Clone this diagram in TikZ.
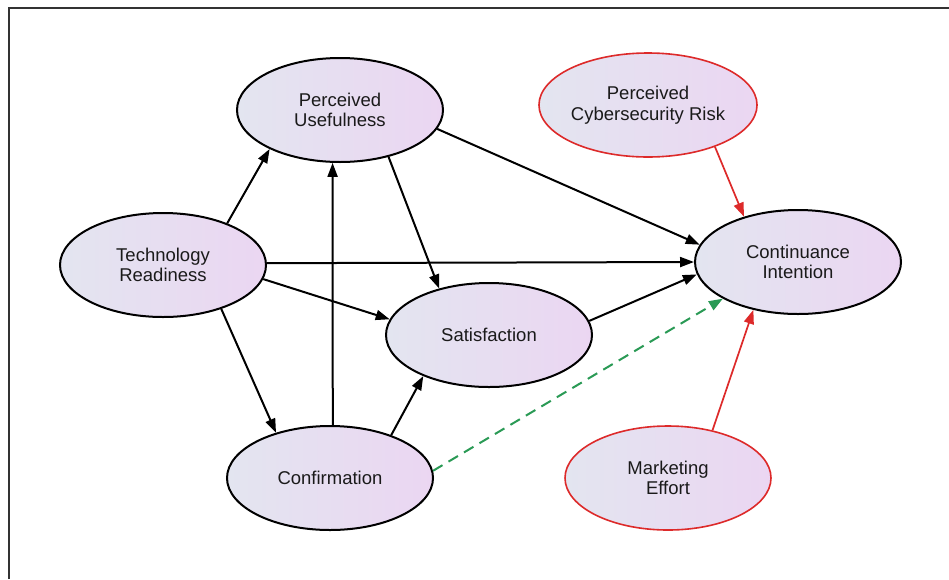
\documentclass[tikz,border=0pt]{standalone}
\usepackage{fontspec}
\setmainfont{Liberation Sans}
\usetikzlibrary{shapes.geometric,arrows.meta}
\definecolor{lcol}{HTML}{E3E5F0}
\definecolor{rcol}{HTML}{EBD6F2}
\definecolor{redc}{HTML}{DD2A2A}
\definecolor{greenc}{HTML}{2A9A55}
\definecolor{txt}{HTML}{1A1A1A}
\begin{document}
\begin{tikzpicture}[x=1pt,y=-1pt,
 construct/.style={ellipse, draw=black, line width=2pt, left color=lcol, right color=rcol,
   minimum width=206pt, minimum height=104pt, inner sep=0pt, align=center,
   font=\fontsize{18.5}{20.5}\selectfont, text=txt},
 riskbox/.style={construct, draw=redc, line width=1.6pt},
 link/.style={line width=2pt, -{Triangle[length=14pt,width=10pt]}},
 redlink/.style={redc, line width=1.7pt, -{Triangle[length=14pt,width=10pt]}},
 greenlink/.style={greenc, line width=2pt, dash pattern=on 11pt off 7pt, -{Triangle[length=14pt,width=10pt]}}]
\useasboundingbox (0,0) rectangle (949,579);
\fill[white] (0,0) rectangle (949,579);
\draw[line width=2pt, black!80] (9,579) -- (9,8) -- (949,8);

\node[construct] (pu)   at (340,110) {Perceived\\Usefulness};
\node[construct] (tr)   at (163,265) {Technology\\Readiness};
\node[construct] (sat)  at (489,335) {Satisfaction};
\node[construct] (conf) at (330,478) {Confirmation};
\node[construct] (ci)   at (798,262) {Continuance\\Intention};
\node[riskbox]   (pcr)  at (648,105) {Perceived\\Cybersecurity Risk};
\node[riskbox]   (me)   at (668,478) {Marketing\\Effort};

\draw[link] (tr.33) -- (pu.209.5);
\draw[link] (tr.-37) -- (conf.140.7);
\draw[link] (tr.-8) -- (sat.171.4);
\draw[link] (tr.1) -- (ci.180);
\draw[link] (pu.-11) -- (ci.170);
\draw[link] (pu.-44.4) -- (sat.137.3);
\draw[link] (conf.87) -- (pu.262);
\draw[link] (conf.35.3) -- (sat.212.5);
\draw[link] (sat.8.1) -- (ci.187.6);
\draw[greenlink] (conf.4.5) -- (ci.206.3);
\draw[redlink] (pcr.-32.9) -- (ci.140.7);
\draw[redlink] (me.47.5) -- (ci.227);
\end{tikzpicture}
\end{document}
